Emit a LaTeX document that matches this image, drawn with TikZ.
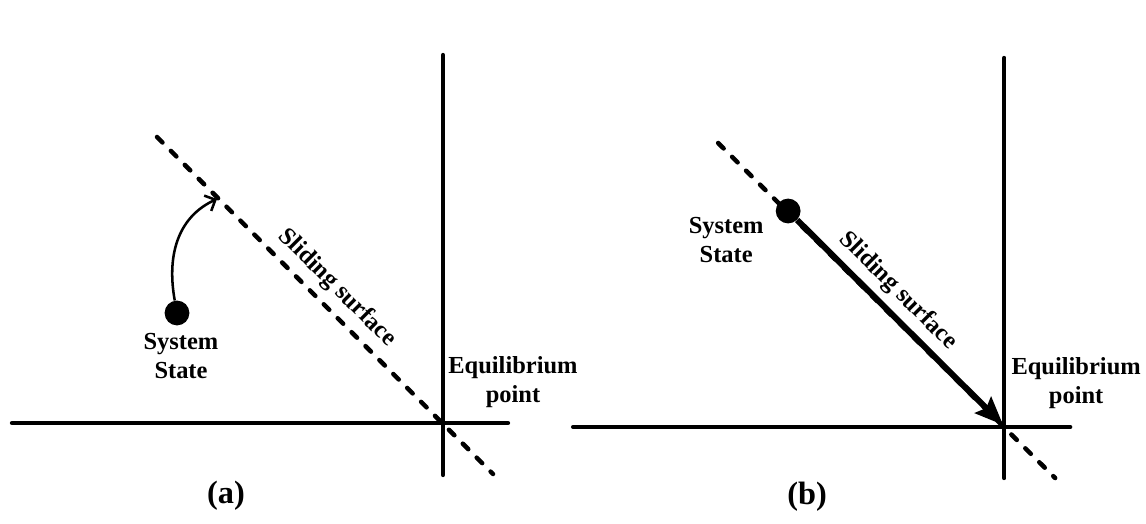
\documentclass[tikz,border=0pt]{standalone}
\usepackage{fontspec}
\setmainfont{Liberation Serif}
\usetikzlibrary{arrows.meta, positioning}

\begin{document}
\begin{tikzpicture}[x=0.025cm, y=-0.025cm, >=Stealth,
    axis/.style={line width=3.1pt, line cap=round},
    surface/.style={line width=3.2pt, line cap=round, dash pattern=on 5.5pt off 8.5pt},
    statedot/.style={circle, fill=black, inner sep=0pt, minimum size=0.62cm},
    lbl/.style={font=\bfseries\fontsize{17.4}{20.5}\selectfont, align=center},
    panellbl/.style={font=\bfseries\fontsize{23}{26}\selectfont}]
    \useasboundingbox (0,0) rectangle (1146,524);

    % Approach to the surface
    \coordinate (hLa) at (12,423);
    \coordinate (hRa) at (508,423);
    \coordinate (vTa) at (443,55);
    \coordinate (vBa) at (443,475);
    \coordinate (sTa) at (157,137);
    \coordinate (sBa) at (493,474);
    \coordinate (tipa) at (217,199);
    \draw[surface] (sTa) -- (sBa);
    \draw[axis] (hLa) -- (hRa);
    \draw[axis] (vTa) -- (vBa);
    \node[statedot] (dota) at (177,313) {};
    \draw[line width=1.8pt, -{Straight Barb[length=6pt, width=12pt]}]
        (dota) .. controls (166,252) and (180,216) .. (tipa);
    \node[lbl] (statea) at (181,356) {System\\State};
    \node[lbl, rotate=-45] (slidea) at (337,288) {Sliding surface};
    \node[lbl] (equia) at (513,382) {Equilibrium\\point};
    \node[panellbl] (capa) at (226,496) {(a)};

    % Sliding along the surface
    \begin{scope}[xshift=14.025cm, yshift=-0.075cm]
    \coordinate (hLb) at (12,424);
    \coordinate (hRb) at (509,424);
    \coordinate (vTb) at (443,55);
    \coordinate (vBb) at (443,475);
    \coordinate (sTb) at (157,140);
    \coordinate (sBb) at (494,475);
    \coordinate (eqb) at (442,422);
    \draw[surface] (sTb) -- (sBb);
    \draw[axis] (hLb) -- (hRb);
    \draw[axis] (vTb) -- (vBb);
    \node[statedot] (dotb) at (227,208) {};
    \draw[line width=4.3pt, -{Stealth[length=20pt, width=16pt, inset=3pt]}]
        (dotb) -- (eqb);
    \node[lbl] (stateb) at (165,237) {System\\State};
    \node[lbl, rotate=-45] (slideb) at (337,288) {Sliding surface};
    \node[lbl] (equib) at (515,380) {Equilibrium\\point};
    \node[panellbl] (capb) at (246,494) {(b)};
    \end{scope}
\end{tikzpicture}
\end{document}
